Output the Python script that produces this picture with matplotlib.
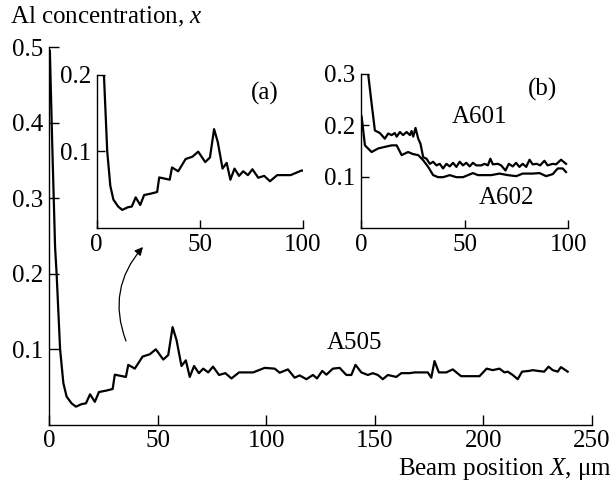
import matplotlib
matplotlib.use("Agg")
import matplotlib.pyplot as plt

plt.rcParams['font.family'] = ['Liberation Serif', 'DejaVu Serif']
plt.rcParams['mathtext.fontset'] = 'custom'
plt.rcParams['mathtext.rm'] = 'Liberation Serif'
plt.rcParams['mathtext.it'] = 'Liberation Serif:italic'

# ---- data: sample A505 (main plot and inset a) ----
a505_x = [0.4, 1.5, 2.8, 3.5, 5.1, 6.6, 8.1, 10.4, 12.4, 15, 17, 18.9, 21.1, 23, 26.5, 29.3,
          30.3, 35.4, 36.5, 39.5, 43.1, 46.4, 49.2, 52.6, 54.9, 56.9, 58.7, 61, 63, 64.8,
          66.8, 69, 71, 73.3, 75.5, 78.3, 81.2, 84, 87.5, 94, 99.3, 103.9, 106.2, 110,
          113.1, 115.4, 118.5, 121.5, 123.4, 125.8, 127.7, 130.7, 133.8, 136.9, 139.2,
          141.1, 143.8, 146.8, 149.1, 151.4, 153.7, 156, 159.9, 162.2, 166, 168.3, 174.4,
          176, 177.5, 179.5, 182.9, 185.9, 189.7, 198.2, 201.5, 204.3, 207.4, 209.7, 211.2,
          213.5, 215.8, 217.8, 221.1, 222.7, 225, 228, 230, 231.9, 234.2, 235.7, 238.8]
a505_y = [0.495, 0.37, 0.235, 0.2, 0.1, 0.055, 0.037, 0.028, 0.0236, 0.027, 0.028, 0.040,
          0.030, 0.043, 0.045, 0.047, 0.066, 0.063, 0.079, 0.074, 0.090, 0.093, 0.0996,
          0.086, 0.092, 0.129, 0.112, 0.0775, 0.085, 0.063, 0.0775, 0.068, 0.074, 0.069,
          0.0766, 0.0656, 0.068, 0.061, 0.069, 0.069, 0.075, 0.074, 0.0686, 0.073, 0.062,
          0.065, 0.060, 0.0656, 0.061, 0.071, 0.066, 0.074, 0.075, 0.0656, 0.0656, 0.079,
          0.069, 0.0656, 0.068, 0.0656, 0.060, 0.0656, 0.063, 0.068, 0.068, 0.069, 0.069,
          0.062, 0.084, 0.069, 0.069, 0.073, 0.064, 0.064, 0.074, 0.072, 0.074, 0.069,
          0.070, 0.0656, 0.060, 0.070, 0.071, 0.072, 0.071, 0.070, 0.0766, 0.072, 0.070,
          0.076, 0.070]

# ---- data: inset b ----
a601_x = [3.5, 5.1, 6.7, 9.1, 11.5, 13.1, 14.8, 16.3, 17.2, 18.8, 20.3, 22, 23.6, 24.4, 25.2,
          26.3, 27.6, 28.7, 30, 31.6, 33.2, 34.8, 36.4, 38, 39.6, 41.2, 42.8, 44.4, 46,
          47.6, 49.2, 50.8, 52.4, 54, 55.6, 58, 59.6, 61.2, 62.4, 63.6, 66, 67.6, 69.7,
          71.3, 73.2, 74.8, 76.4, 78, 79.7, 81.3, 82.8, 84.8, 86.4, 88.5, 90, 92.5, 94.1,
          96.5, 98.9]
a601_y = [0.2986, 0.243, 0.190, 0.185, 0.174, 0.184, 0.181, 0.185, 0.178, 0.187, 0.181,
          0.187, 0.181, 0.189, 0.178, 0.195, 0.174, 0.164, 0.138, 0.135, 0.125, 0.129,
          0.122, 0.125, 0.116, 0.125, 0.120, 0.127, 0.119, 0.129, 0.122, 0.127, 0.120,
          0.127, 0.122, 0.122, 0.125, 0.122, 0.135, 0.124, 0.125, 0.122, 0.112, 0.125,
          0.120, 0.127, 0.119, 0.125, 0.119, 0.133, 0.124, 0.125, 0.122, 0.131, 0.122,
          0.125, 0.124, 0.133, 0.125]
a602_x = [0.3, 1.9, 5.1, 8.3, 11.5, 14.8, 17.2, 19.6, 22.7, 25.1, 27.6, 30, 32.4, 34.8, 37.2,
          39.6, 42.8, 46, 49.2, 51.6, 54, 56.4, 59.6, 62.8, 66.8, 70.8, 74.9, 78, 82.8,
          86.1, 89.3, 92.5, 94.9, 97.3, 98.9]
a602_y = [0.217, 0.161, 0.148, 0.155, 0.158, 0.161, 0.161, 0.142, 0.148, 0.144, 0.142,
          0.132, 0.119, 0.103, 0.099, 0.099, 0.103, 0.099, 0.099, 0.103, 0.107, 0.103,
          0.103, 0.103, 0.106, 0.103, 0.101, 0.106, 0.106, 0.107, 0.101, 0.105, 0.116,
          0.116, 0.109]

main_xticks = [0, 50, 100, 150, 200, 250]
main_yticks = [0.1, 0.2, 0.3, 0.4, 0.5]
inset_xticks = [0, 50, 100]
inseta_yticks = [0.1, 0.2]
insetb_yticks = [0.1, 0.2, 0.3]

FS = 18
W, H = 615, 484
fig = plt.figure(figsize=(W / 100, H / 100), dpi=100)


def px_axes(l, r, b, t):
    return fig.add_axes([l / W, 1 - b / H, (r - l) / W, (b - t) / H])


def style(ax, tlen=6):
    for s in ('top', 'right'):
        ax.spines[s].set_visible(False)
    for s in ('left', 'bottom'):
        ax.spines[s].set_linewidth(1.0)
    ax.tick_params(direction='in', length=tlen, width=1.0, labelsize=FS, pad=4)
    ax.patch.set_alpha(0)


# main axes
ax = px_axes(49, 592, 424.5, 47)
ax.plot(a505_x, a505_y, color='black', lw=1.6)
ax.set_xlim(0, 250)
ax.set_ylim(0, 0.5)
ax.set_xticks(main_xticks)
ax.set_xticklabels([str(v) for v in main_xticks])
ax.set_yticks(main_yticks)
ax.set_yticklabels([f"{v:.1f}" for v in main_yticks])
style(ax, 7)
ax.text(140.7, 0.108, "A505", fontsize=FS, ha='center', va='center')

# inset a
axa = px_axes(96.7, 303, 228, 74.7)
axa.plot(a505_x, a505_y, color='black', lw=1.6)
axa.set_xlim(0, 100)
axa.set_ylim(0, 0.2)
axa.set_xticks(inset_xticks)
axa.set_xticklabels([str(v) for v in inset_xticks])
axa.set_yticks(inseta_yticks)
axa.set_yticklabels([f"{v:.1f}" for v in inseta_yticks])
style(axa, 6)
axa.text(81.6, 0.176, "(a)", fontsize=FS, ha='center', va='center')

# inset b
axb = px_axes(361, 568.3, 228, 74)
axb.plot(a601_x, a601_y, color='black', lw=1.6)
axb.plot(a602_x, a602_y, color='black', lw=1.6)
axb.set_xlim(0, 100)
axb.set_ylim(0, 0.3)
axb.set_xticks(inset_xticks)
axb.set_xticklabels([str(v) for v in inset_xticks])
axb.set_yticks(insetb_yticks)
axb.set_yticklabels([f"{v:.1f}" for v in insetb_yticks])
style(axb, 6)
axb.text(87.5, 0.269, "(b)", fontsize=FS, ha='center', va='center')
axb.text(57.2, 0.216, "A601", fontsize=FS, ha='center', va='center')
axb.text(70.2, 0.059, "A602", fontsize=FS, ha='center', va='center')

# arrow
ax.annotate("", xy=(143 / W, 1 - 247 / H), xycoords='figure fraction',
            xytext=(126 / W, 1 - 341 / H), textcoords='figure fraction',
            arrowprops=dict(arrowstyle='-|>', color='black', lw=0.9,
                            connectionstyle='arc3,rad=-0.3', mutation_scale=12,
                            shrinkA=0, shrinkB=0))

fig.text(10 / W, 1 - 17 / H, "Al concentration, $x$", fontsize=FS, ha='left', va='center')
fig.text(612 / W, 1 - 469 / H, "Beam position $X$, μm", fontsize=FS, ha='right', va='center')

fig.savefig("out.png", dpi=100)
